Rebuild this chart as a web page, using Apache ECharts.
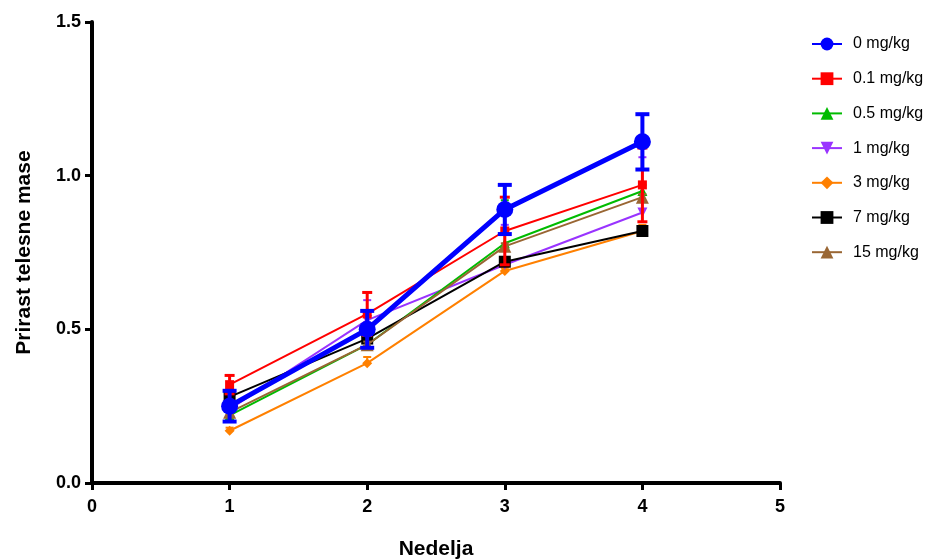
<!DOCTYPE html>
<html>
<head>
<meta charset="utf-8">
<script src="https://cdn.jsdelivr.net/npm/echarts@6/dist/echarts.min.js"></script>
<style>
  html, body { margin: 0; padding: 0; background: #fff; }
  #chart { width: 949px; height: 559px; }
</style>
</head>
<body>
<div id="chart"></div>
<script>
// Weeks on the x axis
const weeks = [1, 2, 3, 4];
// Dose groups
const groups = ['0 mg/kg', '0.1 mg/kg', '0.5 mg/kg', '1 mg/kg', '3 mg/kg', '7 mg/kg', '15 mg/kg'];
// Mean body-mass gain per group and week
const mean0   = [0.25, 0.50, 0.89, 1.11];
const mean01  = [0.32, 0.55, 0.82, 0.97];
const mean05  = [0.22, 0.45, 0.78, 0.95];
const mean1   = [0.24, 0.53, 0.71, 0.88];
const mean3   = [0.17, 0.39, 0.69, 0.82];
const mean7   = [0.28, 0.47, 0.72, 0.82];
const mean15  = [0.23, 0.45, 0.77, 0.93];
// Error per group and week
const err0    = [0.05, 0.06, 0.08, 0.09];
const err01   = [0.03, 0.07, 0.11, 0.12];
const err05   = [0.01, 0.02, 0.14, 0.02];
const err1    = [0.02, 0.065, 0.13, 0.18];
const err3    = [0.01, 0.02, 0.01, 0.02];
const err7    = [0.01, 0.01, 0.01, 0.01];
const err15   = [0.01, 0.01, 0.01, 0.01];
// Which side of the mean each group's error bar is drawn on
const errSide = ['both', 'both', 'up', 'up', 'up', 'up', 'up'];
// Axis ticks
const xTicks = [0, 1, 2, 3, 4, 5];
const yTicks = [0, 0.5, 1.0, 1.5];

const means = [mean0, mean01, mean05, mean1, mean3, mean7, mean15];
const errs  = [err0, err01, err05, err1, err3, err7, err15];

const styles = [
  { color: '#0000FF', symbol: 'circle',   size: 17, width: 5, cap: 14, capW: 4 },
  { color: '#FF0000', symbol: 'rect',     size: 9,  width: 2, cap: 10, capW: 3 },
  { color: '#00BB00', symbol: 'triangle', size: 10, width: 2, cap: 8,  capW: 2 },
  { color: '#9933FF', symbol: 'path://M0,0 L10,0 L5,10 Z', size: 10, width: 2, cap: 8, capW: 2 },
  { color: '#FF8000', symbol: 'diamond',  size: 10, width: 2, cap: 8,  capW: 2 },
  { color: '#000000', symbol: 'rect',     size: 12, width: 2, cap: 8,  capW: 2 },
  { color: '#996633', symbol: 'triangle', size: 13, width: 2, cap: 8,  capW: 2 }
];
// Drawing order: blue group on top, then red
const zOrder = [20, 12, 6, 5, 4, 7, 8];

const FONT = '"Liberation Sans", Arial, sans-serif';

const lineSeries = groups.map((name, i) => {
  const st = styles[i];
  return {
    type: 'line',
    name: name,
    z: zOrder[i] + 0.5,
    data: weeks.map((w, k) => [w, means[i][k]]),
    symbol: st.symbol,
    symbolSize: st.size,
    showAllSymbol: true,
    lineStyle: { color: st.color, width: st.width },
    itemStyle: { color: st.color },
    emphasis: { disabled: true }
  };
});

const errorSeries = groups.map((name, i) => {
  const st = styles[i];
  const side = errSide[i];
  return {
    type: 'custom',
    name: name,
    z: zOrder[i],
    silent: true,
    itemStyle: { color: st.color },
    data: weeks.map((w, k) => [w, means[i][k], errs[i][k]]),
    renderItem: function (params, api) {
      const x = api.value(0), y = api.value(1), e = api.value(2);
      const top = api.coord([x, y + e]);
      const bot = api.coord([x, side === 'both' ? y - e : y]);
      const h = st.cap / 2;
      const s = { stroke: st.color, lineWidth: st.capW };
      const children = [
        { type: 'line', shape: { x1: top[0], y1: top[1], x2: bot[0], y2: bot[1] }, style: s },
        { type: 'line', shape: { x1: top[0] - h, y1: top[1], x2: top[0] + h, y2: top[1] }, style: s }
      ];
      if (side === 'both') {
        children.push({ type: 'line', shape: { x1: bot[0] - h, y1: bot[1], x2: bot[0] + h, y2: bot[1] }, style: s });
      }
      return { type: 'group', children: children };
    }
  };
});

const chart = echarts.init(document.getElementById('chart'), null, { renderer: 'canvas' });
chart.setOption({
  animation: false,
  backgroundColor: '#ffffff',
  grid: { left: 92, right: 169, top: 22, bottom: 76, containLabel: false, outerBoundsMode: 'none' },
  xAxis: {
    type: 'value',
    min: xTicks[0],
    max: xTicks[xTicks.length - 1],
    interval: 1,
    name: 'Nedelja',
    nameLocation: 'middle',
    nameGap: 56,
    nameTextStyle: { fontFamily: FONT, fontWeight: 'bold', fontSize: 21, color: '#000' },
    axisLine: { show: true, onZero: false, lineStyle: { color: '#000', width: 4 } },
    axisTick: { show: true, inside: false, length: 7, lineStyle: { color: '#000', width: 3 } },
    axisLabel: { fontFamily: FONT, fontWeight: 'bold', fontSize: 18, color: '#000', margin: 15 },
    splitLine: { show: false }
  },
  yAxis: {
    type: 'value',
    min: yTicks[0],
    max: yTicks[yTicks.length - 1],
    interval: 0.5,
    name: 'Prirast telesne mase',
    nameLocation: 'middle',
    nameGap: 57,
    nameRotate: 90,
    nameTextStyle: { fontFamily: FONT, fontWeight: 'bold', fontSize: 21, color: '#000' },
    axisLine: { show: true, onZero: false, lineStyle: { color: '#000', width: 4 } },
    axisTick: { show: true, inside: false, length: 7, lineStyle: { color: '#000', width: 3 } },
    axisLabel: {
      fontFamily: FONT, fontWeight: 'bold', fontSize: 18, color: '#000', margin: 11,
      formatter: v => v.toFixed(1)
    },
    splitLine: { show: false }
  },
  legend: {
    data: groups,
    orient: 'vertical',
    left: 806,
    top: 31,
    itemWidth: 30,
    itemHeight: 16,
    itemGap: 18.7,
    selectedMode: false,
    textStyle: { fontFamily: FONT, fontSize: 16, color: '#000', padding: [0, 0, 0, 6] }
  },
  series: lineSeries.concat(errorSeries)
});
</script>
</body>
</html>
